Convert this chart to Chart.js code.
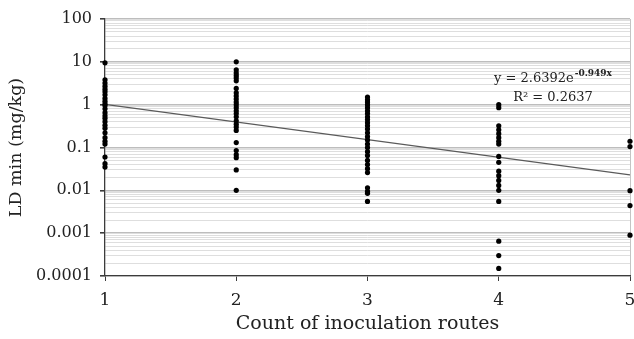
<!DOCTYPE html>
<html lang="en">
<head>
<meta charset="UTF-8">
<title>LD min vs count of inoculation routes</title>
<style>
  html, body { margin: 0; padding: 0; background: #fff; }
  #wrap { width: 634px; height: 339px; }
</style>
</head>
<body>
<div id="wrap"><canvas id="chart" width="634" height="339"></canvas></div>
<script src="https://cdn.jsdelivr.net/npm/chart.js"></script>
<script>
// values (mg/kg)
const routes = [1, 2, 3, 4, 5];
const ldRoute1 = [9.5, 3.8, 3.2, 2.7, 2.3, 2.0, 1.7, 1.4, 1.2, 1.05, 0.95, 0.8, 0.65, 0.55, 0.48, 0.4, 0.33, 0.28, 0.22, 0.17, 0.14, 0.12, 0.06, 0.042, 0.035];
const ldRoute2 = [10, 6.5, 5.5, 4.8, 4.2, 3.6, 2.4, 1.9, 1.6, 1.35, 1.15, 1.0, 0.85, 0.72, 0.62, 0.52, 0.42, 0.35, 0.3, 0.25, 0.13, 0.085, 0.068, 0.058, 0.03, 0.01];
const ldRoute3 = [1.5, 1.3, 1.15, 1.0, 0.85, 0.72, 0.62, 0.52, 0.45, 0.38, 0.32, 0.27, 0.22, 0.18, 0.15, 0.12, 0.1, 0.08, 0.065, 0.05, 0.04, 0.032, 0.026, 0.0115, 0.0095, 0.0085, 0.0055];
const ldRoute4 = [1.0, 0.85, 0.32, 0.26, 0.21, 0.17, 0.14, 0.12, 0.062, 0.045, 0.028, 0.022, 0.017, 0.013, 0.01, 0.0055, 0.00065, 0.0003, 0.00015];
const ldRoute5 = [0.14, 0.105, 0.0098, 0.0044, 0.0009];

// trendline end points
const trendX = [1, 5];
const trendY = [1.02, 0.0229];

const yTickLabels = ['0.0001', '0.001', '0.01', '0.1', '1', '10', '100'];
const xTickLabels = ['1', '2', '3', '4', '5'];
const trendText = ['y = 2.6392e', '-0.949x'];
const r2Text = 'R\u00B2 = 0.2637';

const serif = '"DejaVu Serif", "Liberation Serif", serif';

const allRoutes = [ldRoute1, ldRoute2, ldRoute3, ldRoute4, ldRoute5];
const points = [];
allRoutes.forEach((vals, i) => vals.forEach(v => points.push({ x: routes[i], y: v })));

function majorLabel(value) {
  return yTickLabels.find(l => Math.abs(parseFloat(l) - value) / value < 1e-6);
}

const equationLabel = {
  id: 'equationLabel',
  afterDatasetsDraw(chart) {
    const { ctx, chartArea: a } = chart;
    const cx = a.right - 77;
    ctx.save();
    ctx.fillStyle = '#222';
    ctx.textBaseline = 'alphabetic';
    ctx.font = '13px ' + serif;
    const mainW = ctx.measureText(trendText[0]).width;
    ctx.font = 'bold 9px ' + serif;
    const supW = ctx.measureText(trendText[1]).width;
    const x0 = cx - (mainW + supW + 1) / 2;
    ctx.font = '13px ' + serif;
    ctx.fillText(trendText[0], x0, a.top + 63);
    ctx.font = 'bold 9px ' + serif;
    ctx.fillText(trendText[1], x0 + mainW + 1, a.top + 57);
    ctx.font = '13px ' + serif;
    ctx.textAlign = 'center';
    ctx.fillText(r2Text, cx, a.top + 82);
    ctx.restore();
  }
};

new Chart(document.getElementById('chart'), {
  type: 'scatter',
  data: {
    datasets: [
      {
        label: 'LD min',
        data: points,
        backgroundColor: '#000',
        borderWidth: 0,
        pointRadius: 2.6,
        clip: false,
        order: 1
      },
      {
        type: 'line',
        label: 'Trend',
        data: trendX.map((x, i) => ({ x: x, y: trendY[i] })),
        borderColor: '#5a5a5a',
        borderWidth: 1.3,
        pointRadius: 0,
        fill: false,
        order: 2
      }
    ]
  },
  options: {
    responsive: false,
    animation: false,
    layout: { padding: { top: 19, right: 4, bottom: 0, left: 0 } },
    plugins: { legend: { display: false }, tooltip: { enabled: false } },
    scales: {
      x: {
        type: 'linear',
        min: 1,
        max: 5,
        border: { color: '#3c3c3c', width: 1.3 },
        grid: {
          drawOnChartArea: true,
          color: c => (c.tick && c.tick.value === 5 ? '#c4c4c4' : 'rgba(0,0,0,0)'),
          tickColor: '#3c3c3c',
          tickLength: 5
        },
        ticks: {
          stepSize: 1,
          padding: 9,
          color: '#222',
          font: { family: serif, size: 17 },
          callback: v => xTickLabels[routes.indexOf(v)] ?? ''
        },
        title: {
          display: true,
          text: 'Count of inoculation routes',
          color: '#222',
          font: { family: serif, size: 19 },
          padding: { top: 0, bottom: 4 }
        },
        afterFit: s => { s.height = 63; s.paddingLeft = 0; s.paddingRight = 0; }
      },
      y: {
        type: 'logarithmic',
        min: 0.0001,
        max: 100,
        border: { color: '#3c3c3c', width: 1.3 },
        afterBuildTicks: s => {
          const t = [];
          yTickLabels.forEach((lab, i) => {
            const base = parseFloat(lab);
            t.push({ value: base });
            if (i < yTickLabels.length - 1) {
              for (let k = 2; k <= 9; k++) t.push({ value: base * k });
            }
          });
          s.ticks = t;
        },
        grid: {
          color: c => (majorLabel(c.tick.value) ? '#bdbdbd' : '#dedede'),
          lineWidth: c => (majorLabel(c.tick.value) ? 1.6 : 1),
          tickColor: c => (majorLabel(c.tick.value) ? '#3c3c3c' : 'rgba(0,0,0,0)'),
          tickLength: 5
        },
        ticks: {
          autoSkip: false,
          padding: 8,
          color: '#222',
          font: { family: serif, size: 16 },
          callback: v => majorLabel(v) || ''
        },
        title: {
          display: true,
          text: 'LD min (mg/kg)',
          color: '#222',
          font: { family: serif, size: 17.5 },
          padding: { top: 6, bottom: 0 }
        },
        afterFit: s => { s.width = 105; s.paddingTop = 0; s.paddingBottom = 0; }
      }
    }
  },
  plugins: [equationLabel]
});
</script>
</body>
</html>
